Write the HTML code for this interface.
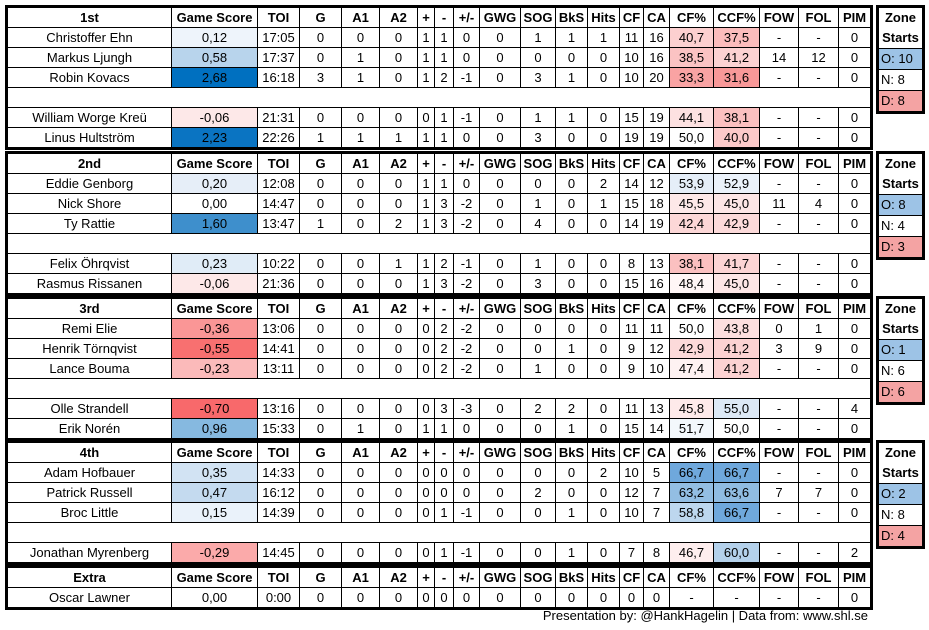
<!DOCTYPE html>
<html><head><meta charset="utf-8"><style>
body{margin:0;width:929px;height:630px;background:#fff;position:relative;font-family:"Liberation Sans",sans-serif;font-size:13px;color:#000;overflow:hidden}
table{position:absolute;left:5px;border-collapse:collapse;table-layout:fixed;border:3px solid #000;width:868px;font-size:13px}
td{border:1px solid #000;text-align:center;padding:0;height:19px;line-height:18px;white-space:nowrap;overflow:hidden}
tr.h td{font-weight:bold;height:19px}
tr.b td{border-left:none;border-right:none}
.z{position:absolute;left:876px;width:43px;border:3px solid #000;font-size:13px}
.z div{height:20px;line-height:20px;border-top:1px solid #000;padding-left:2px}
.z div.t{border-top:none;text-align:center;font-weight:bold;padding:0}
.o{background:#9dc3e6}.d{background:#f4a3a3}
.cr{position:absolute;right:61px;top:608px;font-size:13px}
</style></head><body>
<table style="top:5px">
<colgroup><col style="width:165px"><col style="width:86px"><col style="width:42px"><col style="width:42px"><col style="width:38px"><col style="width:38px"><col style="width:17px"><col style="width:19px"><col style="width:26px"><col style="width:41px"><col style="width:35px"><col style="width:32px"><col style="width:32px"><col style="width:24px"><col style="width:26px"><col style="width:44px"><col style="width:46px"><col style="width:39px"><col style="width:40px"><col style="width:33px"></colgroup>
<tr class="h"><td>1st</td><td>Game Score</td><td>TOI</td><td>G</td><td>A1</td><td>A2</td><td>+</td><td>-</td><td>+/-</td><td>GWG</td><td>SOG</td><td>BkS</td><td>Hits</td><td>CF</td><td>CA</td><td>CF%</td><td>CCF%</td><td>FOW</td><td>FOL</td><td>PIM</td></tr>
<tr><td>Christoffer Ehn</td><td style="background:#eef4fb">0,12</td><td>17:05</td><td>0</td><td>0</td><td>0</td><td>1</td><td>1</td><td>0</td><td>0</td><td>1</td><td>1</td><td>1</td><td>11</td><td>16</td><td style="background:#fcd0d0">40,7</td><td style="background:#fbbcbc">37,5</td><td>-</td><td>-</td><td>0</td></tr>
<tr><td>Markus Ljungh</td><td style="background:#b8d4ec">0,58</td><td>17:37</td><td>0</td><td>1</td><td>0</td><td>1</td><td>1</td><td>0</td><td>0</td><td>0</td><td>0</td><td>0</td><td>10</td><td>16</td><td style="background:#fbc3c3">38,5</td><td style="background:#fcd2d2">41,2</td><td>14</td><td>12</td><td>0</td></tr>
<tr><td>Robin Kovacs</td><td style="background:#0070c0">2,68</td><td>16:18</td><td>3</td><td>1</td><td>0</td><td>1</td><td>2</td><td>-1</td><td>0</td><td>3</td><td>1</td><td>0</td><td>10</td><td>20</td><td style="background:#f9a3a3">33,3</td><td style="background:#f89898">31,6</td><td>-</td><td>-</td><td>0</td></tr>
<tr class="b"><td colspan="20"></td></tr>
<tr><td>William Worge Kreü</td><td style="background:#fde8e8">-0,06</td><td>21:31</td><td>0</td><td>0</td><td>0</td><td>0</td><td>1</td><td>-1</td><td>0</td><td>1</td><td>1</td><td>0</td><td>15</td><td>19</td><td style="background:#fde1e1">44,1</td><td style="background:#fbc0c0">38,1</td><td>-</td><td>-</td><td>0</td></tr>
<tr><td>Linus Hultström</td><td style="background:#0a74c2">2,23</td><td>22:26</td><td>1</td><td>1</td><td>1</td><td>1</td><td>1</td><td>0</td><td>0</td><td>3</td><td>0</td><td>0</td><td>19</td><td>19</td><td>50,0</td><td style="background:#fccaca">40,0</td><td>-</td><td>-</td><td>0</td></tr>
</table>
<div class="z" style="top:5px"><div class="t">Zone</div><div class="t">Starts</div><div class="o">O: 10</div><div>N: 8</div><div class="d">D: 8</div></div>

<table style="top:151px">
<colgroup><col style="width:165px"><col style="width:86px"><col style="width:42px"><col style="width:42px"><col style="width:38px"><col style="width:38px"><col style="width:17px"><col style="width:19px"><col style="width:26px"><col style="width:41px"><col style="width:35px"><col style="width:32px"><col style="width:32px"><col style="width:24px"><col style="width:26px"><col style="width:44px"><col style="width:46px"><col style="width:39px"><col style="width:40px"><col style="width:33px"></colgroup>
<tr class="h"><td>2nd</td><td>Game Score</td><td>TOI</td><td>G</td><td>A1</td><td>A2</td><td>+</td><td>-</td><td>+/-</td><td>GWG</td><td>SOG</td><td>BkS</td><td>Hits</td><td>CF</td><td>CA</td><td>CF%</td><td>CCF%</td><td>FOW</td><td>FOL</td><td>PIM</td></tr>
<tr><td>Eddie Genborg</td><td style="background:#e6eef8">0,20</td><td>12:08</td><td>0</td><td>0</td><td>0</td><td>1</td><td>1</td><td>0</td><td>0</td><td>0</td><td>0</td><td>2</td><td>14</td><td>12</td><td style="background:#e5eef8">53,9</td><td style="background:#ebf2fa">52,9</td><td>-</td><td>-</td><td>0</td></tr>
<tr><td>Nick Shore</td><td>0,00</td><td>14:47</td><td>0</td><td>0</td><td>0</td><td>1</td><td>3</td><td>-2</td><td>0</td><td>1</td><td>0</td><td>1</td><td>15</td><td>18</td><td style="background:#fde8e8">45,5</td><td style="background:#fde6e6">45,0</td><td>11</td><td>4</td><td>0</td></tr>
<tr><td>Ty Rattie</td><td style="background:#3e8fcc">1,60</td><td>13:47</td><td>1</td><td>0</td><td>2</td><td>1</td><td>3</td><td>-2</td><td>0</td><td>4</td><td>0</td><td>0</td><td>14</td><td>19</td><td style="background:#fcd7d7">42,4</td><td style="background:#fcdada">42,9</td><td>-</td><td>-</td><td>0</td></tr>
<tr class="b"><td colspan="20"></td></tr>
<tr><td>Felix Öhrqvist</td><td style="background:#e0ecf7">0,23</td><td>10:22</td><td>0</td><td>0</td><td>1</td><td>1</td><td>2</td><td>-1</td><td>0</td><td>1</td><td>0</td><td>0</td><td>8</td><td>13</td><td style="background:#fbc0c0">38,1</td><td style="background:#fcd4d4">41,7</td><td>-</td><td>-</td><td>0</td></tr>
<tr><td>Rasmus Rissanen</td><td style="background:#fde8e8">-0,06</td><td>21:36</td><td>0</td><td>0</td><td>0</td><td>1</td><td>3</td><td>-2</td><td>0</td><td>3</td><td>0</td><td>0</td><td>15</td><td>16</td><td style="background:#fff6f6">48,4</td><td style="background:#fde6e6">45,0</td><td>-</td><td>-</td><td>0</td></tr>
</table>
<div class="z" style="top:151px"><div class="t">Zone</div><div class="t">Starts</div><div class="o">O: 8</div><div>N: 4</div><div class="d">D: 3</div></div>

<table style="top:296px">
<colgroup><col style="width:165px"><col style="width:86px"><col style="width:42px"><col style="width:42px"><col style="width:38px"><col style="width:38px"><col style="width:17px"><col style="width:19px"><col style="width:26px"><col style="width:41px"><col style="width:35px"><col style="width:32px"><col style="width:32px"><col style="width:24px"><col style="width:26px"><col style="width:44px"><col style="width:46px"><col style="width:39px"><col style="width:40px"><col style="width:33px"></colgroup>
<tr class="h"><td>3rd</td><td>Game Score</td><td>TOI</td><td>G</td><td>A1</td><td>A2</td><td>+</td><td>-</td><td>+/-</td><td>GWG</td><td>SOG</td><td>BkS</td><td>Hits</td><td>CF</td><td>CA</td><td>CF%</td><td>CCF%</td><td>FOW</td><td>FOL</td><td>PIM</td></tr>
<tr><td>Remi Elie</td><td style="background:#fa9696">-0,36</td><td>13:06</td><td>0</td><td>0</td><td>0</td><td>0</td><td>2</td><td>-2</td><td>0</td><td>0</td><td>0</td><td>0</td><td>11</td><td>11</td><td>50,0</td><td style="background:#fddfdf">43,8</td><td>0</td><td>1</td><td>0</td></tr>
<tr><td>Henrik Törnqvist</td><td style="background:#f87070">-0,55</td><td>14:41</td><td>0</td><td>0</td><td>0</td><td>0</td><td>2</td><td>-2</td><td>0</td><td>0</td><td>1</td><td>0</td><td>9</td><td>12</td><td style="background:#fcdada">42,9</td><td style="background:#fcd2d2">41,2</td><td>3</td><td>9</td><td>0</td></tr>
<tr><td>Lance Bouma</td><td style="background:#fbbaba">-0,23</td><td>13:11</td><td>0</td><td>0</td><td>0</td><td>0</td><td>2</td><td>-2</td><td>0</td><td>1</td><td>0</td><td>0</td><td>9</td><td>10</td><td style="background:#fef2f2">47,4</td><td style="background:#fcd2d2">41,2</td><td>-</td><td>-</td><td>0</td></tr>
<tr class="b"><td colspan="20"></td></tr>
<tr><td>Olle Strandell</td><td style="background:#f8696b">-0,70</td><td>13:16</td><td>0</td><td>0</td><td>0</td><td>0</td><td>3</td><td>-3</td><td>0</td><td>2</td><td>2</td><td>0</td><td>11</td><td>13</td><td style="background:#feeaea">45,8</td><td style="background:#dde9f6">55,0</td><td>-</td><td>-</td><td>4</td></tr>
<tr><td>Erik Norén</td><td style="background:#86b9e0">0,96</td><td>15:33</td><td>0</td><td>1</td><td>0</td><td>1</td><td>1</td><td>0</td><td>0</td><td>0</td><td>1</td><td>0</td><td>15</td><td>14</td><td style="background:#f3f8fc">51,7</td><td>50,0</td><td>-</td><td>-</td><td>0</td></tr>
</table>
<div class="z" style="top:296px"><div class="t">Zone</div><div class="t">Starts</div><div class="o">O: 1</div><div>N: 6</div><div class="d">D: 6</div></div>

<table style="top:440px">
<colgroup><col style="width:165px"><col style="width:86px"><col style="width:42px"><col style="width:42px"><col style="width:38px"><col style="width:38px"><col style="width:17px"><col style="width:19px"><col style="width:26px"><col style="width:41px"><col style="width:35px"><col style="width:32px"><col style="width:32px"><col style="width:24px"><col style="width:26px"><col style="width:44px"><col style="width:46px"><col style="width:39px"><col style="width:40px"><col style="width:33px"></colgroup>
<tr class="h"><td>4th</td><td>Game Score</td><td>TOI</td><td>G</td><td>A1</td><td>A2</td><td>+</td><td>-</td><td>+/-</td><td>GWG</td><td>SOG</td><td>BkS</td><td>Hits</td><td>CF</td><td>CA</td><td>CF%</td><td>CCF%</td><td>FOW</td><td>FOL</td><td>PIM</td></tr>
<tr><td>Adam Hofbauer</td><td style="background:#d2e3f3">0,35</td><td>14:33</td><td>0</td><td>0</td><td>0</td><td>0</td><td>0</td><td>0</td><td>0</td><td>0</td><td>0</td><td>2</td><td>10</td><td>5</td><td style="background:#6fa8dc">66,7</td><td style="background:#6fa8dc">66,7</td><td>-</td><td>-</td><td>0</td></tr>
<tr><td>Patrick Russell</td><td style="background:#c4daef">0,47</td><td>16:12</td><td>0</td><td>0</td><td>0</td><td>0</td><td>0</td><td>0</td><td>0</td><td>2</td><td>0</td><td>0</td><td>12</td><td>7</td><td style="background:#93bee3">63,2</td><td style="background:#90bce2">63,6</td><td>7</td><td>7</td><td>0</td></tr>
<tr><td>Broc Little</td><td style="background:#eaf2fa">0,15</td><td>14:39</td><td>0</td><td>0</td><td>0</td><td>0</td><td>1</td><td>-1</td><td>0</td><td>0</td><td>1</td><td>0</td><td>10</td><td>7</td><td style="background:#bdd7ee">58,8</td><td style="background:#6fa8dc">66,7</td><td>-</td><td>-</td><td>0</td></tr>
<tr class="b"><td colspan="20"></td></tr>
<tr><td>Jonathan Myrenberg</td><td style="background:#fbaaaa">-0,29</td><td>14:45</td><td>0</td><td>0</td><td>0</td><td>0</td><td>1</td><td>-1</td><td>0</td><td>0</td><td>1</td><td>0</td><td>7</td><td>8</td><td style="background:#feeeee">46,7</td><td style="background:#b4d1eb">60,0</td><td>-</td><td>-</td><td>2</td></tr>
</table>
<div class="z" style="top:440px"><div class="t">Zone</div><div class="t">Starts</div><div class="o">O: 2</div><div>N: 8</div><div class="d">D: 4</div></div>

<table style="top:565px">
<colgroup><col style="width:165px"><col style="width:86px"><col style="width:42px"><col style="width:42px"><col style="width:38px"><col style="width:38px"><col style="width:17px"><col style="width:19px"><col style="width:26px"><col style="width:41px"><col style="width:35px"><col style="width:32px"><col style="width:32px"><col style="width:24px"><col style="width:26px"><col style="width:44px"><col style="width:46px"><col style="width:39px"><col style="width:40px"><col style="width:33px"></colgroup>
<tr class="h"><td>Extra</td><td>Game Score</td><td>TOI</td><td>G</td><td>A1</td><td>A2</td><td>+</td><td>-</td><td>+/-</td><td>GWG</td><td>SOG</td><td>BkS</td><td>Hits</td><td>CF</td><td>CA</td><td>CF%</td><td>CCF%</td><td>FOW</td><td>FOL</td><td>PIM</td></tr>
<tr><td>Oscar Lawner</td><td>0,00</td><td>0:00</td><td>0</td><td>0</td><td>0</td><td>0</td><td>0</td><td>0</td><td>0</td><td>0</td><td>0</td><td>0</td><td>0</td><td>0</td><td>-</td><td>-</td><td>-</td><td>-</td><td>0</td></tr>
</table>
<div class="cr">Presentation by: @HankHagelin | Data from: www.shl.se</div>
</body></html>
